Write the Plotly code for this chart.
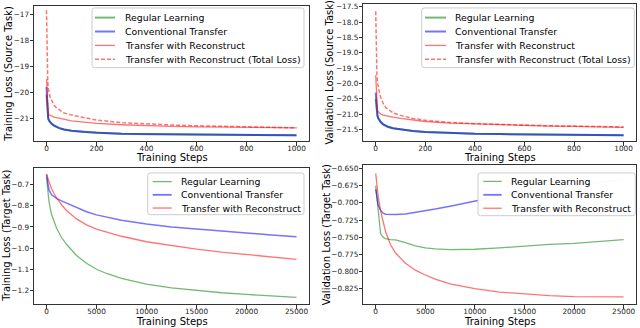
import plotly.graph_objects as go

W, H = 640, 328
FONT = "DejaVu Sans"

# ---------------- data ----------------
series_names_src = ["Regular Learning", "Conventional Transfer",
                    "Transfer with Reconstruct", "Transfer with Reconstruct (Total Loss)"]
series_names_tgt = ["Regular Learning", "Conventional Transfer", "Transfer with Reconstruct"]

src_steps = [0, 1, 3, 5, 7, 10, 15, 20, 30, 40, 50, 70, 100, 150, 200, 300, 400,
             500, 600, 700, 800, 900, 1000]

tl_regular = [-20.1, -20.3, -20.7, -20.9, -21.02, -21.1, -21.16, -21.21, -21.29, -21.34,
              -21.38, -21.43, -21.48, -21.53, -21.56, -21.6, -21.615, -21.625, -21.635,
              -21.64, -21.645, -21.65, -21.655]
tl_conventional = [-19.8, -20.0, -20.6, -20.85, -21.0, -21.08, -21.15, -21.2, -21.28, -21.33,
                   -21.37, -21.43, -21.48, -21.52, -21.56, -21.6, -21.61, -21.62, -21.63,
                   -21.64, -21.645, -21.65, -21.655]
tl_reconstruct = [-19.5, -19.6, -20.2, -20.6, -20.8, -20.87, -20.9, -20.93, -20.96, -20.98,
                  -21.0, -21.04, -21.1, -21.15, -21.2, -21.25, -21.29, -21.31, -21.33,
                  -21.34, -21.35, -21.36, -21.37]
tl_reconstruct_total = [-16.85, -17.6, -19.2, -19.6, -19.85, -20.05, -20.2, -20.3, -20.5, -20.6,
                        -20.66, -20.8, -20.88, -20.98, -21.07, -21.17, -21.22, -21.26, -21.29,
                        -21.31, -21.33, -21.35, -21.37]

tr_regular = [-20.5, -20.6, -20.85, -20.98, -21.06, -21.14, -21.21, -21.26, -21.34, -21.39,
              -21.42, -21.46, -21.5, -21.55, -21.58, -21.62, -21.64, -21.65, -21.66,
              -21.67, -21.675, -21.68, -21.685]
tr_conventional = [-20.3, -20.45, -20.75, -20.93, -21.03, -21.12, -21.2, -21.25, -21.33, -21.38,
                   -21.41, -21.46, -21.5, -21.55, -21.58, -21.62, -21.64, -21.65, -21.66,
                   -21.67, -21.675, -21.68, -21.685]
tr_reconstruct = [-19.73, -19.9, -20.4, -20.7, -20.85, -20.92, -20.96, -20.99, -21.03, -21.05,
                  -21.07, -21.1, -21.14, -21.19, -21.24, -21.29, -21.32, -21.35, -21.37,
                  -21.39, -21.4, -21.42, -21.43]
tr_reconstruct_total = [-17.65, -18.3, -19.3, -19.7, -19.95, -20.15, -20.3, -20.45, -20.65, -20.78,
                        -20.85, -20.96, -21.04, -21.14, -21.2, -21.27, -21.31, -21.34, -21.36,
                        -21.38, -21.39, -21.41, -21.42]

tgt_steps = [0, 250, 500, 750, 1000, 1500, 2000, 3000, 4000, 5000, 6000, 7500, 10000,
             12500, 15000, 17500, 20000, 22500, 25000]

bl_regular = [-0.665, -0.78, -0.84, -0.878, -0.905, -0.95, -0.982, -1.035, -1.072, -1.10,
              -1.12, -1.143, -1.17, -1.188, -1.201, -1.211, -1.219, -1.227, -1.233]
bl_conventional = [-0.651, -0.725, -0.748, -0.757, -0.765, -0.777, -0.787, -0.808, -0.828,
                   -0.843, -0.853, -0.868, -0.886, -0.9, -0.91, -0.92, -0.929, -0.938, -0.946]
bl_reconstruct = [-0.651, -0.69, -0.718, -0.742, -0.762, -0.795, -0.822, -0.862, -0.89, -0.91,
                  -0.925, -0.944, -0.97, -0.989, -1.005, -1.019, -1.031, -1.043, -1.053]

br_regular = [-0.675, -0.716, -0.745, -0.75, -0.752, -0.7535, -0.754, -0.758, -0.7625, -0.7655,
              -0.767, -0.768, -0.7675, -0.7655, -0.7625, -0.7605, -0.759, -0.7565, -0.7535]
br_conventional = [-0.68, -0.703, -0.711, -0.715, -0.7165, -0.717, -0.717, -0.716, -0.714,
                   -0.7115, -0.709, -0.705, -0.697, -0.69, -0.684, -0.679, -0.674, -0.67, -0.666]
br_reconstruct = [-0.657, -0.69, -0.712, -0.729, -0.742, -0.761, -0.773, -0.788, -0.798, -0.805,
                  -0.811, -0.818, -0.825, -0.83, -0.833, -0.835, -0.8365, -0.837, -0.837]

src_xticks = [0, 200, 400, 600, 800, 1000]
tgt_xticks = [0, 5000, 10000, 15000, 20000, 25000]
tl_yticks = [-21, -20, -19, -18, -17]
tr_yticks = [-21.5, -21.0, -20.5, -20.0, -19.5, -19.0, -18.5, -18.0, -17.5]
bl_yticks = [-1.2, -1.1, -1.0, -0.9, -0.8, -0.7]
br_yticks = [-0.825, -0.8, -0.775, -0.75, -0.725, -0.7, -0.675, -0.65]

# ---------------- styles ----------------
GREEN = "rgba(0,128,0,0.55)"
BLUE = "rgba(0,0,255,0.55)"
RED = "rgba(255,0,0,0.55)"
DASH = "4px,2px"
SPINE = "#333333"


def xp(px):
    return px / W


def yp(py):
    return 1 - py / H


# panel geometry in pixels: (x0, x1), (ytop, ybottom)
panels = {
    1: dict(xd=(34, 309), yd=(4, 140), xr=[-50, 1050], yr=[-21.88, -16.69],
            xt=src_xticks, yt=tl_yticks, yfmt=".0f", xfmt="d",
            ytitle="Training Loss (Source Task)", ytx=8.3, xtgap=16.5),
    2: dict(xd=(363.3, 636), yd=(2, 140), xr=[-50, 1050], yr=[-21.88, -17.41],
            xt=src_xticks, yt=tr_yticks, yfmt=".1f", xfmt="d",
            ytitle="Validation Loss (Source Task)", ytx=330, xtgap=16.5),
    3: dict(xd=(34, 309), yd=(167.5, 304), xr=[-1250, 26250], yr=[-1.265, -0.6235],
            xt=tgt_xticks, yt=bl_yticks, yfmt=".1f", xfmt="d",
            ytitle="Training Loss (Target Task)", ytx=6.5, xtgap=17.5),
    4: dict(xd=(363.3, 636), yd=(164.5, 304), xr=[-1250, 26250], yr=[-0.8475, -0.6455],
            xt=tgt_xticks, yt=br_yticks, yfmt=".3f", xfmt="d",
            ytitle="Validation Loss (Target Task)", ytx=326.5, xtgap=17.5),
}

fig = go.Figure()


def add_line(i, x, y, color, width, dash=None, name=None):
    sfx = "" if i == 1 else str(i)
    fig.add_trace(go.Scatter(x=x, y=y, mode="lines", name=name, showlegend=False,
                             line=dict(color=color, width=width, dash=dash),
                             xaxis="x" + sfx, yaxis="y" + sfx))


# top-left
add_line(1, src_steps, tl_regular, GREEN, 2.0, name=series_names_src[0])
add_line(1, src_steps, tl_conventional, BLUE, 2.0, name=series_names_src[1])
add_line(1, src_steps, tl_reconstruct, RED, 1.3, name=series_names_src[2])
add_line(1, src_steps, tl_reconstruct_total, RED, 1.5, DASH, name=series_names_src[3])
# top-right
add_line(2, src_steps, tr_regular, GREEN, 2.0, name=series_names_src[0])
add_line(2, src_steps, tr_conventional, BLUE, 2.0, name=series_names_src[1])
add_line(2, src_steps, tr_reconstruct, RED, 1.3, name=series_names_src[2])
add_line(2, src_steps, tr_reconstruct_total, RED, 1.5, DASH, name=series_names_src[3])
# bottom-left
add_line(3, tgt_steps, bl_regular, GREEN, 1.3, name=series_names_tgt[0])
add_line(3, tgt_steps, bl_conventional, BLUE, 1.5, name=series_names_tgt[1])
add_line(3, tgt_steps, bl_reconstruct, RED, 1.3, name=series_names_tgt[2])
# bottom-right
add_line(4, tgt_steps, br_regular, GREEN, 1.3, name=series_names_tgt[0])
add_line(4, tgt_steps, br_conventional, BLUE, 1.5, name=series_names_tgt[1])
add_line(4, tgt_steps, br_reconstruct, RED, 1.3, name=series_names_tgt[2])

layout = dict(width=W, height=H, margin=dict(l=0, r=0, t=0, b=0),
              paper_bgcolor="white", plot_bgcolor="white",
              font=dict(family=FONT, color="black"), showlegend=False)

annotations = []
shapes = []

for i, p in panels.items():
    sfx = "" if i == 1 else str(i)
    common = dict(showline=True, mirror=True, linecolor=SPINE, linewidth=1,
                  showgrid=False, zeroline=False, ticks="outside", ticklen=3.5,
                  tickwidth=0.8, tickcolor=SPINE,
                  tickfont=dict(family=FONT, size=7.3, color="#222222"))
    layout["xaxis" + sfx] = dict(common, domain=[xp(p["xd"][0]), xp(p["xd"][1])],
                                 range=p["xr"], tickvals=p["xt"], tickformat=p["xfmt"],
                                 ticklabelstandoff=-3, anchor="y" + sfx)
    layout["yaxis" + sfx] = dict(common, domain=[yp(p["yd"][1]), yp(p["yd"][0])],
                                 range=p["yr"], tickvals=p["yt"], tickformat=p["yfmt"],
                                 ticklabelstandoff=-1, anchor="x" + sfx)
    # axis titles
    annotations.append(dict(text="Training Steps", xref="paper", yref="paper",
                            x=xp((p["xd"][0] + p["xd"][1]) / 2),
                            y=yp(p["yd"][1] + p["xtgap"]),
                            xanchor="center", yanchor="middle", showarrow=False,
                            font=dict(family=FONT, size=10, color="black")))
    annotations.append(dict(text=p["ytitle"], xref="paper", yref="paper",
                            x=xp(p["ytx"]), y=yp((p["yd"][0] + p["yd"][1]) / 2),
                            xanchor="center", yanchor="middle", textangle=-90,
                            showarrow=False,
                            font=dict(family=FONT, size=10, color="black")))

# ---------------- legends (drawn as boxes with sample lines) ----------------
src_styles = [(GREEN, 2.0, None), (BLUE, 2.0, None), (RED, 1.3, None), (RED, 1.5, "dash")]
tgt_styles = [(GREEN, 1.3, None), (BLUE, 1.8, None), (RED, 1.3, None)]

legends = [
    dict(box=(92, 304, 6, 66), line=(95, 115), text_x=122.7,
         rows=[15.7, 29.7, 43.7, 57.7], names=series_names_src, styles=src_styles),
    dict(box=(421.7, 634.3, 6, 66), line=(425, 446), text_x=453.3,
         rows=[15.7, 29.7, 43.7, 57.7], names=series_names_src, styles=src_styles),
    dict(box=(147.7, 304, 172, 214), line=(152.7, 171.7), text_x=179.3,
         rows=[180.7, 194, 207.3], names=series_names_tgt, styles=tgt_styles),
    dict(box=(478, 635.3, 172, 215), line=(483.3, 501.7), text_x=509.3,
         rows=[180.5, 194, 207.5], names=series_names_tgt, styles=tgt_styles),
]


def rounded_rect(x0, x1, y0, y1, r=2.5):
    X0, X1 = xp(x0), xp(x1)
    Ya, Yb = yp(y0), yp(y1)  # Ya top (higher), Yb bottom
    rx, ry = r / W, r / H
    return (f"M {X0+rx},{Ya} L {X1-rx},{Ya} Q {X1},{Ya} {X1},{Ya-ry} "
            f"L {X1},{Yb+ry} Q {X1},{Yb} {X1-rx},{Yb} L {X0+rx},{Yb} "
            f"Q {X0},{Yb} {X0},{Yb+ry} L {X0},{Ya-ry} Q {X0},{Ya} {X0+rx},{Ya} Z")


for lg in legends:
    bx0, bx1, by0, by1 = lg["box"]
    shapes.append(dict(type="path", path=rounded_rect(bx0, bx1, by0, by1),
                       xref="paper", yref="paper", layer="above",
                       fillcolor="rgba(255,255,255,0.97)",
                       line=dict(color="#cccccc", width=1)))
    for row, name, (col, wd, dsh) in zip(lg["rows"], lg["names"], lg["styles"]):
        shapes.append(dict(type="line", xref="paper", yref="paper", layer="above",
                           x0=xp(lg["line"][0]), x1=xp(lg["line"][1]),
                           y0=yp(row), y1=yp(row),
                           line=dict(color=col, width=wd, dash=DASH if dsh else None)))
        annotations.append(dict(text=name, xref="paper", yref="paper",
                                x=xp(lg["text_x"]), y=yp(row), xanchor="left",
                                yanchor="middle", showarrow=False,
                                font=dict(family=FONT, size=9.35, color="black")))

layout["annotations"] = annotations
layout["shapes"] = shapes
fig.update_layout(**layout)
fig.write_html("out.html", config={"displayModeBar": False},
               post_script="document.body.style.margin='0';document.body.style.padding='0';")
